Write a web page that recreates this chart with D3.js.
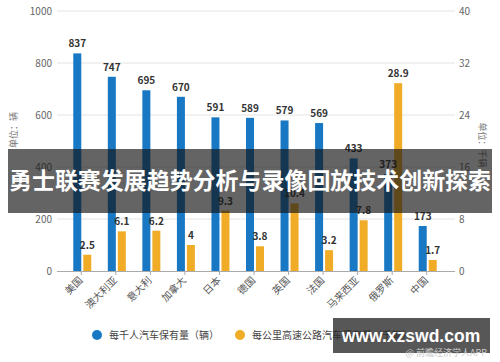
<!DOCTYPE html>
<html><head><meta charset="utf-8">
<script src="https://cdn.jsdelivr.net/npm/d3@7"></script>
<style>
html,body{margin:0;padding:0;background:#fff;}
svg{display:block;font-family:"Noto Sans CJK SC","Noto Sans",sans-serif;}
</style></head>
<body><svg id="c" width="500" height="362"></svg>
<script>
const categories = ["美国","澳大利亚","意大利","加拿大","日本","德国","英国","法国","马来西亚","俄罗斯","中国"];
const carsPerThousand = [837,747,695,670,591,589,579,569,433,373,173];
const carsPerKmHighway = [2.5,6.1,6.2,4,9.3,3.8,10.4,3.2,7.8,28.9,1.7];
const leftTicks = [0,200,400,600,800,1000];
const rightTicks = [0,8,16,24,32,40];
const seriesNames = ["每千人汽车保有量（辆）","每公里高速公路汽车保有量（千辆）"];
const colors = ["#1878c4","#f0ac27"];

const svg = d3.select("#c");
const x = d3.scaleBand().domain(categories).range([65,445]).padding(0);
const yL = d3.scaleLinear().domain([0,1000]).range([271,11]);
const yR = d3.scaleLinear().domain([0,40]).range([271,11]);

// grid
svg.append("g").selectAll("line").data(leftTicks.slice(1)).join("line")
  .attr("x1",57).attr("x2",455).attr("y1",d=>yL(d)).attr("y2",d=>yL(d))
  .attr("stroke","#e3e3e3").attr("stroke-width",1);

// left axis labels
svg.append("g").selectAll("text").data(leftTicks).join("text")
  .attr("x",52).attr("y",d=>yL(d)+4).attr("text-anchor","end")
  .attr("font-size",10).attr("fill","#666").text(d=>d);
// right axis labels
svg.append("g").selectAll("text").data(rightTicks).join("text")
  .attr("x",459).attr("y",d=>yR(d)+4).attr("text-anchor","start")
  .attr("font-size",10).attr("fill","#666").text(d=>d);

// axis titles
svg.append("text").attr("transform","translate(17,130) rotate(-90)")
  .attr("text-anchor","middle").attr("font-size",9).attr("fill","#777").text("单位：辆");
svg.append("text").attr("transform","translate(479,145) rotate(90)")
  .attr("text-anchor","middle").attr("font-size",9).attr("fill","#777").text("单位：千辆");

// bottom axis
svg.append("line").attr("x1",57).attr("x2",455).attr("y1",271.5).attr("y2",271.5).attr("stroke","#aaa");
svg.append("g").selectAll("line").data(categories).join("line")
  .attr("x1",d=>x(d)+x.bandwidth()/2-1).attr("x2",d=>x(d)+x.bandwidth()/2-1)
  .attr("y1",271).attr("y2",275).attr("stroke","#aaa");

const cx = d => x(d)+x.bandwidth()/2;

// bars
svg.append("g").selectAll("rect").data(categories).join("rect")
  .attr("x",d=>cx(d)-9).attr("width",8)
  .attr("y",(d,i)=>yL(carsPerThousand[i])).attr("height",(d,i)=>271-yL(carsPerThousand[i]))
  .attr("fill",colors[0]);
svg.append("g").selectAll("rect").data(categories).join("rect")
  .attr("x",d=>cx(d)+1).attr("width",8)
  .attr("y",(d,i)=>yR(carsPerKmHighway[i])).attr("height",(d,i)=>271-yR(carsPerKmHighway[i]))
  .attr("fill",colors[1]);

// value labels
svg.append("g").selectAll("text").data(categories).join("text")
  .attr("x",d=>cx(d)-5).attr("y",(d,i)=>yL(carsPerThousand[i])-6)
  .attr("text-anchor","middle").attr("font-size",10).attr("font-weight","bold")
  .attr("fill","#333").text((d,i)=>carsPerThousand[i]);
svg.append("g").selectAll("text").data(categories).join("text")
  .attr("x",d=>cx(d)+5).attr("y",(d,i)=>yR(carsPerKmHighway[i])-6)
  .attr("text-anchor","middle").attr("font-size",10).attr("font-weight","bold")
  .attr("fill","#333").text((d,i)=>carsPerKmHighway[i]);

// x labels
svg.append("g").selectAll("text").data(categories).join("text")
  .attr("transform",d=>`translate(${cx(d)+1},281) rotate(-45)`)
  .attr("text-anchor","end").attr("font-size",10).attr("fill","#555").text(d=>d);

// legend
const lg = [{x:97,name:seriesNames[0],c:colors[0]},{x:240,name:seriesNames[1],c:colors[1]}];
lg.forEach(l=>{
  svg.append("circle").attr("cx",l.x).attr("cy",335).attr("r",5).attr("fill",l.c);
  svg.append("text").attr("x",l.x+12).attr("y",339).attr("font-size",10).attr("fill","#444").text(l.name);
});

// banner overlay
svg.append("rect").attr("x",8).attr("y",149).attr("width",484).attr("height",64).attr("fill","rgba(20,20,20,0.66)");
svg.append("text").attr("x",250).attr("y",189).attr("text-anchor","middle")
  .attr("font-size",23).attr("font-weight","bold").attr("fill","#fff")
  .attr("textLength",482).attr("lengthAdjust","spacingAndGlyphs")
  .text("勇士联赛发展趋势分析与录像回放技术创新探索");

// watermark box
svg.append("rect").attr("x",333).attr("y",318).attr("width",157).attr("height",35).attr("fill","rgba(40,40,40,0.78)");
svg.append("text").attr("x",411).attr("y",342).attr("text-anchor","middle")
  .attr("font-size",17.5).attr("font-weight","bold").attr("fill","#fff").attr("font-family","Liberation Sans, Arial, sans-serif")
  .text("www.xzswd.com");
svg.append("text").attr("x",487).attr("y",356).attr("text-anchor","end")
  .attr("font-size",9).attr("fill","#ccc").text("@ 前瞻经济学人APP");
</script></body></html>
